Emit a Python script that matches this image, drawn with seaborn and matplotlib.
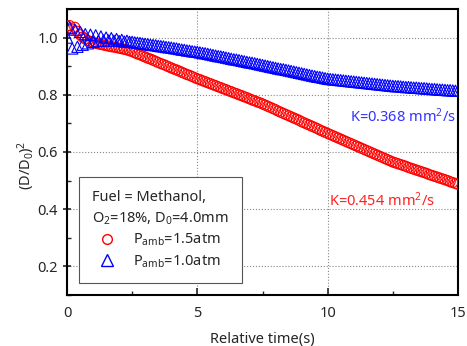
import numpy as np
import pandas as pd
import seaborn as sns
import matplotlib.pyplot as plt
from matplotlib.lines import Line2D
from matplotlib.ticker import MultipleLocator

# time axis (s), sampled every 0.1 s
time_s = [round(i * 0.1, 1) for i in range(151)]

# (D/D0)^2, P_amb = 1.5 atm
d2_15atm = [
    1.040, 1.042, 1.030, 1.036, 1.022, 1.010, 1.002, 0.995, 0.990, 0.986,
    0.983, 0.980, 0.978, 0.976, 0.974, 0.972, 0.970, 0.968, 0.967, 0.965,
    0.963, 0.961, 0.959, 0.957, 0.954, 0.951, 0.947, 0.943, 0.940, 0.936,
    0.932, 0.928, 0.925, 0.921, 0.917, 0.913, 0.909, 0.906, 0.902, 0.898,
    0.894, 0.890, 0.887, 0.883, 0.879, 0.875, 0.871, 0.868, 0.864, 0.860,
    0.856, 0.853, 0.849, 0.846, 0.842, 0.839, 0.835, 0.832, 0.828, 0.825,
    0.821, 0.818, 0.814, 0.811, 0.807, 0.804, 0.800, 0.797, 0.793, 0.790,
    0.786, 0.782, 0.779, 0.775, 0.772, 0.768, 0.764, 0.760, 0.756, 0.752,
    0.748, 0.743, 0.739, 0.735, 0.731, 0.727, 0.723, 0.719, 0.715, 0.711,
    0.706, 0.702, 0.698, 0.694, 0.690, 0.686, 0.682, 0.677, 0.673, 0.669,
    0.665, 0.661, 0.657, 0.653, 0.649, 0.645, 0.641, 0.637, 0.633, 0.629,
    0.625, 0.621, 0.617, 0.613, 0.609, 0.605, 0.601, 0.597, 0.593, 0.589,
    0.585, 0.581, 0.577, 0.573, 0.569, 0.565, 0.562, 0.559, 0.556, 0.553,
    0.550, 0.546, 0.543, 0.540, 0.537, 0.534, 0.531, 0.528, 0.525, 0.521,
    0.518, 0.515, 0.512, 0.509, 0.506, 0.503, 0.500, 0.496, 0.493, 0.490,
    0.487,
]

# (D/D0)^2, P_amb = 1.0 atm
d2_10atm = [
    1.000, 1.035, 0.962, 1.028, 0.968, 1.020, 0.975, 1.012, 0.980, 1.010,
    0.985, 1.008, 0.988, 1.004, 0.990, 1.000, 0.990, 0.998, 0.989, 0.995,
    0.988, 0.992, 0.986, 0.989, 0.985, 0.985, 0.983, 0.982, 0.981, 0.979,
    0.978, 0.977, 0.975, 0.974, 0.973, 0.971, 0.970, 0.969, 0.967, 0.966,
    0.965, 0.963, 0.962, 0.960, 0.958, 0.957, 0.955, 0.954, 0.952, 0.951,
    0.950, 0.948, 0.946, 0.945, 0.943, 0.941, 0.939, 0.937, 0.935, 0.934,
    0.932, 0.930, 0.928, 0.926, 0.924, 0.923, 0.921, 0.919, 0.917, 0.915,
    0.913, 0.912, 0.910, 0.908, 0.906, 0.904, 0.902, 0.900, 0.898, 0.896,
    0.894, 0.892, 0.890, 0.889, 0.887, 0.885, 0.883, 0.881, 0.879, 0.877,
    0.875, 0.873, 0.871, 0.869, 0.867, 0.865, 0.863, 0.862, 0.860, 0.858,
    0.856, 0.855, 0.854, 0.853, 0.852, 0.851, 0.850, 0.849, 0.848, 0.847,
    0.846, 0.845, 0.844, 0.843, 0.842, 0.841, 0.840, 0.839, 0.838, 0.837,
    0.836, 0.835, 0.834, 0.833, 0.832, 0.831, 0.830, 0.830, 0.829, 0.828,
    0.827, 0.827, 0.826, 0.825, 0.825, 0.824, 0.823, 0.823, 0.822, 0.821,
    0.820, 0.820, 0.819, 0.818, 0.818, 0.817, 0.816, 0.816, 0.815, 0.814,
    0.814,
]

df = pd.DataFrame({"t": time_s, "p15": d2_15atm, "p10": d2_10atm})

sns.set_theme(style="ticks")
plt.rcParams['font.family'] = ['Noto Sans', 'DejaVu Sans']
plt.rcParams['mathtext.fontset'] = 'custom'
plt.rcParams['mathtext.rm'] = 'Noto Sans'
plt.rcParams['mathtext.it'] = 'Noto Sans'

fig = plt.figure(figsize=(4.67, 3.46), dpi=100)
ax = fig.add_axes([0.1435, 0.1474, 0.8372, 0.8266])

sns.scatterplot(data=df, x="t", y="p15", ax=ax, marker="o", s=52,
                facecolors="none", edgecolor="#ff0000", linewidth=0.8, zorder=3)
sns.scatterplot(data=df, x="t", y="p10", ax=ax, marker="^", s=66,
                facecolors="none", edgecolor="#0000ff", linewidth=0.8, zorder=4)

ax.set_xlim(0, 15)
ax.set_ylim(0.1, 1.1)
ax.xaxis.set_major_locator(MultipleLocator(5))
ax.xaxis.set_minor_locator(MultipleLocator(2.5))
ax.set_yticks([0.2, 0.4, 0.6, 0.8, 1.0])
ax.yaxis.set_minor_locator(MultipleLocator(0.1))
ax.tick_params(axis='x', which='major', direction='in', length=5, width=1.2, labelsize=10.5, pad=8)
ax.tick_params(axis='x', which='minor', direction='in', length=3, width=1.0)
ax.tick_params(axis='y', which='major', direction='inout', length=6, width=1.2, labelsize=10.5)
ax.tick_params(axis='y', which='minor', direction='in', length=3, width=1.0)
ax.grid(True, which='major', linestyle=':', color='#888888', linewidth=0.8)
for sp in ax.spines.values():
    sp.set_visible(True)
    sp.set_linewidth(1.5)
    sp.set_color('black')

ax.set_xlabel("Relative time(s)", fontsize=10.5, labelpad=8)
ax.set_ylabel("(D/D$_0$)$^2$", fontsize=10.5)
ax.yaxis.set_label_coords(-0.078, 0.455)

ax.text(12.9, 0.723, "K=0.368 mm$^2$/s", color="#3333ff", fontsize=10.5,
        ha="center", va="center")
ax.text(12.08, 0.429, "K=0.454 mm$^2$/s", color="#ff2222", fontsize=10.5,
        ha="center", va="center")

handles = [
    Line2D([], [], marker="o", linestyle="none", markerfacecolor="none",
           markeredgecolor="#ff0000", markersize=7, label="P$_{amb}$=1.5atm"),
    Line2D([], [], marker="^", linestyle="none", markerfacecolor="none",
           markeredgecolor="#0000ff", markersize=8, label="P$_{amb}$=1.0atm"),
]
leg = ax.legend(handles=handles, loc="lower left", bbox_to_anchor=(0.031, 0.042),
                borderaxespad=0,
                title="Fuel = Methanol,\nO$_2$=18%, D$_0$=4.0mm",
                alignment="left", fontsize=10.5, title_fontsize=10.5,
                frameon=True, fancybox=False, framealpha=1, edgecolor="#555555",
                borderpad=0.9, handletextpad=0.8, labelspacing=0.35)
leg.get_title().set_linespacing(1.45)
leg.get_frame().set_linewidth(0.8)
leg.set_zorder(10)

fig.savefig("out.png", dpi=100)
plt.close(fig)
